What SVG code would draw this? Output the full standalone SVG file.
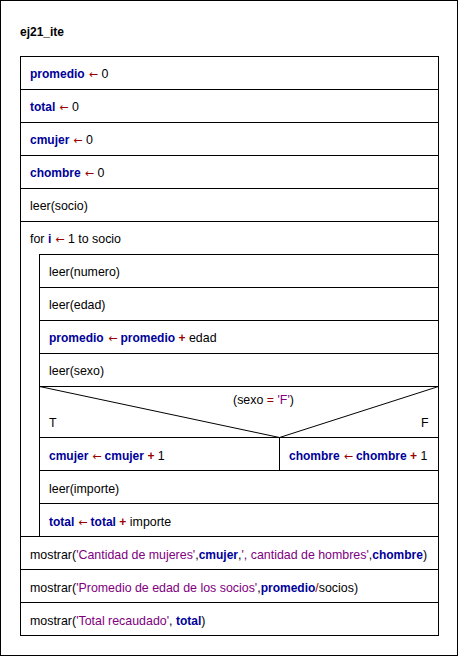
<svg xmlns="http://www.w3.org/2000/svg" width="459" height="657" viewBox="0 0 459 657">
<style>
text{font-family:"Liberation Sans",Arial,sans-serif;font-size:12.4px;fill:#000}
.k{font-weight:bold;fill:#000099;font-size:12px}
.o{fill:#990000}
.a{fill:#990000;font-family:"DejaVu Sans",sans-serif;font-size:11px}
.ob{fill:#990000;font-weight:bold;font-size:12px}
.s{fill:#800080}
.b{fill:none;stroke:#000;stroke-width:1}
</style>
<rect width="459" height="657" fill="#fff"/>
<rect class="b" x="0.5" y="0.5" width="457" height="655"/>
<text x="20" y="36" style="font-weight:bold;font-size:12px">ej21_ite</text>
<g id="connectors">
<rect class="b" x="20.5" y="56.5" width="418" height="579"/>
<line class="b" x1="20" y1="89.5" x2="439" y2="89.5"/>
<line class="b" x1="20" y1="122.5" x2="439" y2="122.5"/>
<line class="b" x1="20" y1="155.5" x2="439" y2="155.5"/>
<line class="b" x1="20" y1="188.5" x2="439" y2="188.5"/>
<line class="b" x1="20" y1="221.5" x2="439" y2="221.5"/>
<line class="b" x1="39.5" y1="254.5" x2="439" y2="254.5"/>
<line class="b" x1="39.5" y1="254" x2="39.5" y2="537"/>
<line class="b" x1="39.5" y1="287.5" x2="439" y2="287.5"/>
<line class="b" x1="39.5" y1="320.5" x2="439" y2="320.5"/>
<line class="b" x1="39.5" y1="353.5" x2="439" y2="353.5"/>
<line class="b" x1="39.5" y1="386.5" x2="439" y2="386.5"/>
<polyline class="b" points="39.5,386.5 279.5,437.5 438.5,386.5"/>
<line class="b" x1="39.5" y1="437.5" x2="439" y2="437.5"/>
<line class="b" x1="279.5" y1="437.5" x2="279.5" y2="470.5"/>
<line class="b" x1="39.5" y1="470.5" x2="439" y2="470.5"/>
<line class="b" x1="39.5" y1="503.5" x2="439" y2="503.5"/>
<line class="b" x1="20" y1="536.5" x2="439" y2="536.5"/>
<line class="b" x1="20" y1="569.5" x2="439" y2="569.5"/>
<line class="b" x1="20" y1="602.5" x2="439" y2="602.5"/>
</g>
<g id="n1"><text x="30" y="78"><tspan class="k">promedio</tspan><tspan class="a" dx="4">←</tspan><tspan dx="3.5">0</tspan></text></g>
<g id="n2"><text x="30" y="111"><tspan class="k">total</tspan><tspan class="a" dx="4">←</tspan><tspan dx="3.5">0</tspan></text></g>
<g id="n3"><text x="30" y="144"><tspan class="k">cmujer</tspan><tspan class="a" dx="4">←</tspan><tspan dx="3.5">0</tspan></text></g>
<g id="n4"><text x="30" y="177"><tspan class="k">chombre</tspan><tspan class="a" dx="4">←</tspan><tspan dx="3.5">0</tspan></text></g>
<g id="n5"><text x="30" y="210">leer(socio)</text></g>
<g id="n6"><text x="30" y="243">for <tspan class="k">i</tspan><tspan class="a" dx="4">←</tspan><tspan dx="3.5">1 to socio</tspan></text></g>
<g id="n7"><text x="49" y="276">leer(numero)</text></g>
<g id="n8"><text x="49" y="309">leer(edad)</text></g>
<g id="n9"><text x="49" y="342"><tspan class="k">promedio</tspan><tspan class="a" dx="4.5">←</tspan><tspan class="k" dx="3">promedio</tspan> <tspan class="ob">+</tspan> edad</text></g>
<g id="n10"><text x="49" y="375">leer(sexo)</text></g>
<g id="n11">
<text x="233" y="404">(sexo <tspan class="o">=</tspan> <tspan class="s">'F'</tspan>)</text>
<text x="49" y="427">T</text>
<text x="421" y="427">F</text>
</g>
<g id="n12"><text x="49" y="460"><tspan class="k">cmujer</tspan><tspan class="a" dx="4">←</tspan><tspan class="k" dx="3">cmujer</tspan> <tspan class="ob">+</tspan> 1</text></g>
<g id="n13"><text x="289" y="460"><tspan class="k">chombre</tspan><tspan class="a" dx="4">←</tspan><tspan class="k" dx="3">chombre</tspan> <tspan class="ob">+</tspan> 1</text></g>
<g id="n14"><text x="49" y="493">leer(importe)</text></g>
<g id="n15"><text x="49" y="526"><tspan class="k">total</tspan><tspan class="a" dx="4">←</tspan><tspan class="k" dx="3">total</tspan> <tspan class="ob">+</tspan> importe</text></g>
<g id="n16"><text x="30" y="559">mostrar(<tspan class="s">'Cantidad de mujeres'</tspan>,<tspan class="k">cmujer</tspan>,<tspan class="s">', cantidad de hombres'</tspan>,<tspan class="k">chombre</tspan>)</text></g>
<g id="n17"><text x="30" y="592">mostrar(<tspan class="s">'Promedio de edad de los socios'</tspan>,<tspan class="k">promedio</tspan><tspan class="o">/</tspan>socios)</text></g>
<g id="n18"><text x="30" y="625">mostrar(<tspan class="s">'Total recaudado'</tspan>, <tspan class="k">total</tspan>)</text></g>
</svg>
